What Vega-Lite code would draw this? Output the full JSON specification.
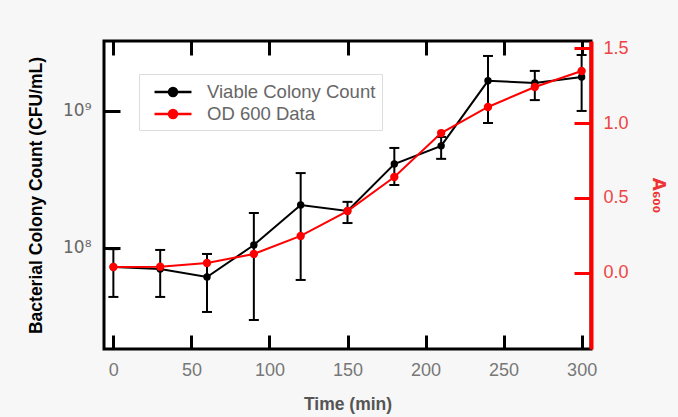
{
  "$schema": "https://vega.github.io/schema/vega-lite/v6.json",
  "width": 487,
  "height": 308,
  "padding": {"left": 27, "top": 39, "right": 11, "bottom": 6},
  "background": "#f7f7f7",
  "config": {
    "view": {"fill": "white", "stroke": "black", "strokeWidth": 3},
    "font": "Liberation Sans"
  },
  "datasets": {
    "cfu": [
      {"t": 0, "cfu": 7.26e7, "lo": 4.39e7, "hi": 9.8e7, "series": "Viable Colony Count"},
      {"t": 30, "cfu": 7.03e7, "lo": 4.39e7, "hi": 9.67e7, "series": "Viable Colony Count"},
      {"t": 60, "cfu": 6.14e7, "lo": 3.41e7, "hi": 9.04e7, "series": "Viable Colony Count"},
      {"t": 90, "cfu": 1.05e8, "lo": 2.98e7, "hi": 1.8e8, "series": "Viable Colony Count"},
      {"t": 120, "cfu": 2.06e8, "lo": 5.84e7, "hi": 3.52e8, "series": "Viable Colony Count"},
      {"t": 150, "cfu": 1.86e8, "lo": 1.52e8, "hi": 2.17e8, "series": "Viable Colony Count"},
      {"t": 180, "cfu": 4.1e8, "lo": 2.88e8, "hi": 5.37e8, "series": "Viable Colony Count"},
      {"t": 210, "cfu": 5.56e8, "lo": 4.47e8, "hi": 6.46e8, "series": "Viable Colony Count"},
      {"t": 240, "cfu": 1.66e9, "lo": 8.17e8, "hi": 2.52e9, "series": "Viable Colony Count"},
      {"t": 270, "cfu": 1.6e9, "lo": 1.2e9, "hi": 1.96e9, "series": "Viable Colony Count"},
      {"t": 300, "cfu": 1.77e9, "lo": 1.0e9, "hi": 2.56e9, "series": "Viable Colony Count"}
    ],
    "od": [
      {"t": 0, "a600": 0.04, "series": "OD 600 Data"},
      {"t": 30, "a600": 0.042, "series": "OD 600 Data"},
      {"t": 60, "a600": 0.067, "series": "OD 600 Data"},
      {"t": 90, "a600": 0.127, "series": "OD 600 Data"},
      {"t": 120, "a600": 0.247, "series": "OD 600 Data"},
      {"t": 150, "a600": 0.413, "series": "OD 600 Data"},
      {"t": 180, "a600": 0.64, "series": "OD 600 Data"},
      {"t": 210, "a600": 0.933, "series": "OD 600 Data"},
      {"t": 240, "a600": 1.107, "series": "OD 600 Data"},
      {"t": 270, "a600": 1.24, "series": "OD 600 Data"},
      {"t": 300, "a600": 1.347, "series": "OD 600 Data"}
    ]
  },
  "layer": [
    {
      "data": {"name": "cfu"},
      "layer": [
        {
          "mark": {"type": "rule", "color": "black", "strokeWidth": 2},
          "encoding": {
            "x": {"field": "t", "type": "quantitative", "title": "Time (min)", "scale": {"domain": [-6, 306], "nice": false, "zero": false}},
            "y": {"field": "lo", "type": "quantitative", "title": "Bacterial Colony Count (CFU/mL)", "scale": {"type": "log", "domain": [1.83e7, 3.24e9], "nice": false}},
            "y2": {"field": "hi"}
          }
        },
        {
          "mark": {"type": "tick", "orient": "horizontal", "size": 10, "thickness": 2, "color": "black", "opacity": 1},
          "encoding": {
            "x": {"field": "t", "type": "quantitative", "title": "Time (min)", "scale": {"domain": [-6, 306], "nice": false, "zero": false}},
            "y": {"field": "lo", "type": "quantitative", "title": "Bacterial Colony Count (CFU/mL)", "scale": {"type": "log", "domain": [1.83e7, 3.24e9], "nice": false}}
          }
        },
        {
          "mark": {"type": "tick", "orient": "horizontal", "size": 10, "thickness": 2, "color": "black", "opacity": 1},
          "encoding": {
            "x": {"field": "t", "type": "quantitative", "title": "Time (min)", "scale": {"domain": [-6, 306], "nice": false, "zero": false}},
            "y": {"field": "hi", "type": "quantitative", "title": "Bacterial Colony Count (CFU/mL)", "scale": {"type": "log", "domain": [1.83e7, 3.24e9], "nice": false}}
          }
        },
        {
          "mark": {"type": "line", "strokeWidth": 2},
          "encoding": {
            "x": {
              "field": "t", "type": "quantitative", "title": "Time (min)",
              "scale": {"domain": [-6, 306], "nice": false, "zero": false},
              "axis": {
                "orient": "bottom", "values": [0, 50, 100, 150, 200, 250, 300], "domain": false, "grid": false,
                "tickSize": -14, "tickWidth": 3, "tickColor": "black",
                "labelFontSize": 18, "labelColor": "#777", "labelPadding": 26,
                "titleFontSize": 17.5, "titleFontWeight": "bold", "titleColor": "#555", "titlePadding": 16
              }
            },
            "y": {
              "field": "cfu", "type": "quantitative", "title": "Bacterial Colony Count (CFU/mL)",
              "scale": {"type": "log", "domain": [1.83e7, 3.24e9], "nice": false},
              "axis": {
                "values": [100000000, 1000000000], "domain": false, "grid": false,
                "labelExpr": "datum.value >= 500000000 ? '10⁹' : '10⁸'",
                "labelFont": "DejaVu Sans",
                "tickSize": -16, "tickWidth": 3, "tickColor": "black",
                "labelFontSize": 17, "labelColor": "#666", "labelPadding": 29,
                "titleFontSize": 17.5, "titleFontWeight": "bold", "titleColor": "black", "titlePadding": 17
              }
            },
            "color": {
              "field": "series", "type": "nominal",
              "scale": {"domain": ["Viable Colony Count", "OD 600 Data"], "range": ["black", "#ff0000"]},
              "legend": {
                "orient": "none", "legendX": 35, "legendY": 33, "title": null,
                "symbolType": "M-1.76,0H1.76M-0.38,0A0.38,0.38,0,1,1,0.38,0A0.38,0.38,0,1,1,-0.38,0Z",
                "symbolSize": 441, "symbolStrokeWidth": 2.5,
                "labelFontSize": 18.5, "labelColor": "#666", "labelFont": "Liberation Sans", "labelLimit": 400,
                "padding": 6, "strokeColor": "#dddddd", "fillColor": "white",
                "symbolOffset": 16, "labelOffset": 22, "rowPadding": 0,
                "encode": {"symbols": {"update": {"fill": {"scale": "color", "field": "value"}, "stroke": {"scale": "color", "field": "value"}}}}
              }
            }
          }
        },
        {
          "mark": {"type": "point", "filled": true, "size": 55, "opacity": 1},
          "encoding": {
            "x": {"field": "t", "type": "quantitative", "title": "Time (min)", "scale": {"domain": [-6, 306], "nice": false, "zero": false}},
            "y": {"field": "cfu", "type": "quantitative", "title": "Bacterial Colony Count (CFU/mL)", "scale": {"type": "log", "domain": [1.83e7, 3.24e9], "nice": false}},
            "color": {"field": "series", "type": "nominal"}
          }
        }
      ]
    },
    {
      "data": {"name": "od"},
      "layer": [
        {
          "mark": {"type": "line", "strokeWidth": 2},
          "encoding": {
            "x": {
              "field": "t", "type": "quantitative", "title": null,
              "scale": {"domain": [-6, 306], "nice": false, "zero": false},
              "axis": {
                "orient": "top", "values": [0, 50, 100, 150, 200, 250, 300], "domain": false, "grid": false, "labels": false,
                "tickSize": -14, "tickWidth": 3, "tickColor": "black", "title": null
              }
            },
            "y": {
              "field": "a600", "type": "quantitative", "title": "A₆₀₀",
              "scale": {"domain": [-0.507, 1.547], "nice": false, "zero": false},
              "axis": {
                "orient": "right", "values": [0, 0.5, 1, 1.5], "format": ".1f", "grid": false,
                "domain": true, "domainColor": "#ff0000", "domainWidth": 4,
                "tickSize": -17, "tickWidth": 3, "tickColor": "#ff0000",
                "labelFontSize": 18, "labelColor": "#ee4444", "labelPadding": 29,
                "titleFont": "DejaVu Sans",
                "titleFontSize": 17, "titleFontWeight": "bold", "titleColor": "#ee3333", "titleAngle": 90, "titlePadding": 20
              }
            },
            "color": {"field": "series", "type": "nominal"}
          }
        },
        {
          "mark": {"type": "point", "filled": true, "size": 70, "opacity": 1},
          "encoding": {
            "x": {"field": "t", "type": "quantitative", "title": null, "scale": {"domain": [-6, 306], "nice": false, "zero": false}},
            "y": {"field": "a600", "type": "quantitative", "title": "A₆₀₀", "scale": {"domain": [-0.507, 1.547], "nice": false, "zero": false}},
            "color": {"field": "series", "type": "nominal"}
          }
        }
      ]
    }
  ],
  "resolve": {"scale": {"y": "independent"}, "axis": {"x": "independent"}}
}
